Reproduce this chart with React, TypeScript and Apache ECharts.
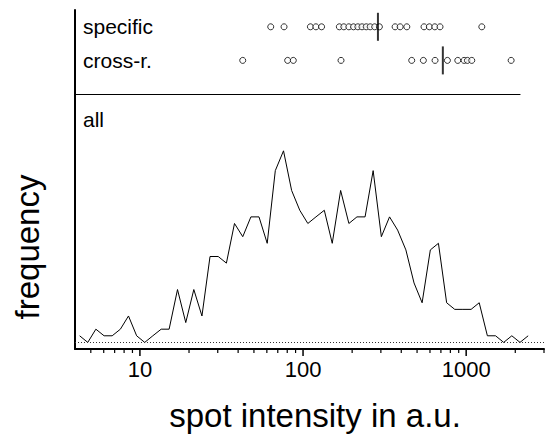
import React, { useEffect, useRef } from 'react';
import * as echarts from 'echarts';

// Histogram of all spots: bin centres (a.u., log-spaced) and counts
const binCenters = [
  4.27, 4.79, 5.37, 6.03, 6.76, 7.59, 8.51, 9.55, 10.7, 12.0, 13.5, 15.1, 17.0, 19.1,
  21.4, 24.0, 26.9, 30.2, 33.9, 38.0, 42.7, 47.9, 53.7, 60.3, 67.6, 75.9, 85.1, 95.5,
  107, 120, 135, 151, 170, 191, 214, 240, 269, 302, 339, 380, 427, 479, 537, 603, 676,
  759, 851, 955, 1072, 1202, 1349, 1514, 1698, 1905, 2138, 2399,
];
const counts = [
  1, 0, 2, 1, 1, 2, 4, 1, 0, 1, 2, 2, 8, 3, 8, 4, 13, 13, 12, 18, 16, 19, 19, 15, 26, 29,
  23, 20, 18, 19, 20, 15, 23, 18, 19, 19, 26, 16, 19, 17, 14, 9, 6, 14, 15, 6, 5, 5, 5, 6,
  1, 1, 0, 1, 0, 1,
];

// Individual spot intensities for the two groups
const specificIntensities = [
  63.4, 76.5, 111, 120, 130, 167, 178, 191, 204, 217, 230, 244, 258, 275, 294, 367, 394,
  433, 552, 595, 643, 692, 1248,
];
const crossIntensities = [42.7, 80.5, 87.2, 171, 464, 547, 645, 768, 889, 972, 1019, 1083, 1888];
const specificMean = 288;
const crossMean = 720;

const rowNames: Record<number, string> = { 2: 'specific', 1: 'cross-r.' };
const majorTicks = [10, 100, 1000];
const minorTicks = [5, 6, 7, 8, 9, 20, 30, 40, 50, 60, 70, 80, 90, 200, 300, 400, 500, 600, 700, 800, 900, 2000, 3000];

const FONT = '"Liberation Sans", Arial, Helvetica, sans-serif';

export default function App() {
  const ref = useRef<HTMLDivElement>(null);

  useEffect(() => {
    const chart = echarts.init(ref.current as HTMLDivElement, null, { renderer: 'svg' });

    const tickSeries = (values: number[], len: number, width: number) => ({
      type: 'custom',
      xAxisIndex: 1,
      yAxisIndex: 1,
      silent: true,
      clip: false,
      z: 5,
      data: values.map((v) => [v, -1]),
      renderItem: (_params: any, api: any) => {
        const p = api.coord([api.value(0), api.value(1)]);
        return {
          type: 'line',
          shape: { x1: p[0], y1: p[1], x2: p[0], y2: p[1] + len },
          style: { stroke: '#000', lineWidth: width },
        };
      },
    });

    const circleStyle = { color: '#fff', borderColor: '#000', borderWidth: 1 };

    chart.setOption({
      animation: false,
      backgroundColor: '#fff',
      grid: [
        { left: 75, top: 10, width: 445, height: 84 },
        { left: 75, top: 94, width: 469, height: 255 },
      ],
      xAxis: [
        {
          gridIndex: 0,
          type: 'log',
          logBase: 10,
          min: 4,
          max: 2140,
          axisLine: { show: true, onZero: false, lineStyle: { color: '#000', width: 1.2 } },
          axisTick: { show: false },
          axisLabel: { show: false },
          splitLine: { show: false },
        },
        {
          gridIndex: 1,
          type: 'log',
          logBase: 10,
          min: 4,
          max: 3000,
          axisLine: { show: true, onZero: false, lineStyle: { color: '#000', width: 2 } },
          axisTick: { show: false },
          splitLine: { show: false },
          axisLabel: {
            show: true,
            showMinLabel: false,
            showMaxLabel: false,
            margin: 9,
            color: '#000',
            fontSize: 22,
            fontFamily: FONT,
            formatter: (v: number) => {
              const l = Math.log10(v);
              return Math.abs(l - Math.round(l)) < 1e-6 && v >= 10 ? String(Math.round(v)) : '';
            },
          },
        },
      ],
      yAxis: [
        {
          gridIndex: 0,
          type: 'value',
          min: 0,
          max: 2.5,
          interval: 1,
          axisLine: { show: true, onZero: false, lineStyle: { color: '#000', width: 2 } },
          axisTick: { show: false },
          splitLine: { show: false },
          axisLabel: {
            inside: true,
            margin: 8,
            color: '#000',
            fontSize: 21,
            fontFamily: FONT,
            showMaxLabel: false,
            formatter: (v: number) => rowNames[Math.round(v)] ?? '',
          },
        },
        {
          gridIndex: 1,
          type: 'value',
          min: -1,
          max: 37.6,
          axisLine: { show: true, onZero: false, lineStyle: { color: '#000', width: 2 } },
          axisTick: { show: false },
          axisLabel: { show: false },
          splitLine: { show: false },
        },
      ],
      series: [
        {
          type: 'line',
          xAxisIndex: 1,
          yAxisIndex: 1,
          data: binCenters.map((x, i) => [x, counts[i]]),
          showSymbol: false,
          symbol: 'none',
          lineStyle: { color: '#000', width: 1 },
          markLine: {
            silent: true,
            symbol: 'none',
            label: { show: false },
            lineStyle: { color: '#333', width: 1, type: [1, 2] },
            data: [{ yAxis: 0 }],
          },
        },
        {
          type: 'scatter',
          xAxisIndex: 0,
          yAxisIndex: 0,
          symbol: 'circle',
          symbolSize: 6,
          itemStyle: circleStyle,
          data: specificIntensities.map((v) => [v, 2]),
        },
        {
          type: 'scatter',
          xAxisIndex: 0,
          yAxisIndex: 0,
          symbol: 'circle',
          symbolSize: 6,
          itemStyle: circleStyle,
          data: crossIntensities.map((v) => [v, 1]),
        },
        {
          type: 'scatter',
          xAxisIndex: 0,
          yAxisIndex: 0,
          symbol: 'rect',
          symbolSize: [2, 28],
          z: 4,
          itemStyle: { color: '#000' },
          data: [
            [specificMean, 2],
            [crossMean, 1],
          ],
        },
        tickSeries(majorTicks, 7, 1.5),
        tickSeries(minorTicks, 4, 1.2),
      ],
      graphic: [
        {
          type: 'text',
          left: 83,
          top: 109,
          style: { text: 'all', font: `21px ${FONT}`, fill: '#000' },
        },
        {
          type: 'text',
          x: 27,
          y: 247,
          rotation: Math.PI / 2,
          style: {
            text: 'frequency',
            font: `33px ${FONT}`,
            fill: '#000',
            align: 'center',
            verticalAlign: 'middle',
          },
        },
        {
          type: 'text',
          x: 315,
          y: 415,
          style: {
            text: 'spot intensity in a.u.',
            font: `33px ${FONT}`,
            fill: '#000',
            align: 'center',
            verticalAlign: 'middle',
          },
        },
      ],
    });

    return () => chart.dispose();
  }, []);

  return (
    <div
      ref={ref}
      style={{ position: 'fixed', left: 0, top: 0, width: 548, height: 440, background: '#fff' }}
    />
  );
}
